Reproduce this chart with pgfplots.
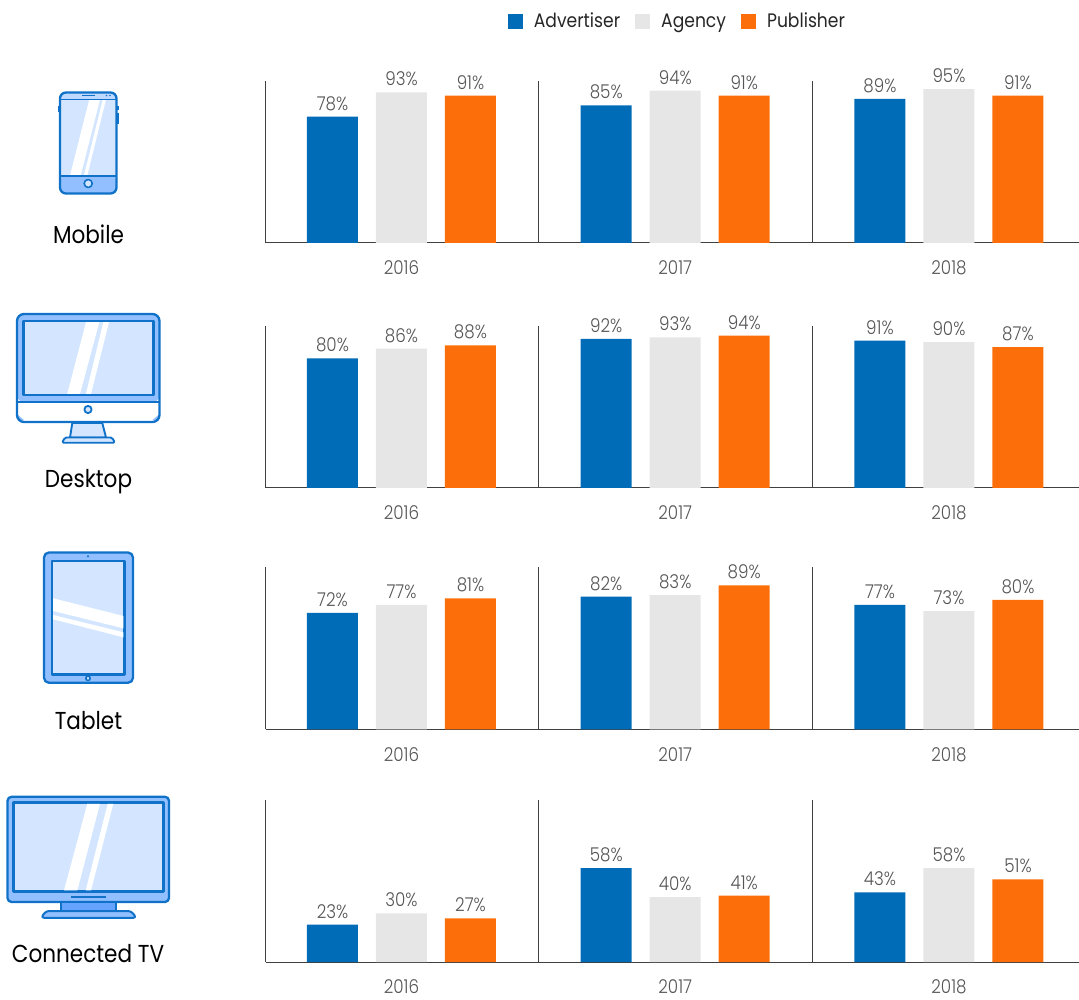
\documentclass[border=0pt]{standalone}
\usepackage{pgfplots}
\pgfplotsset{compat=1.18}
\usepackage{fontspec}
\setmainfont{Poppins}[FakeStretch=0.88]
\newfontfamily\lightfont{Poppins Light}[FakeStretch=0.88]

\definecolor{advblue}{HTML}{006BB7}
\definecolor{agcgray}{HTML}{E6E6E6}
\definecolor{puborange}{HTML}{FC6E09}
\definecolor{iconline}{HTML}{0F72C8}
\definecolor{iconmid}{HTML}{92BFFF}
\definecolor{iconscreen}{HTML}{D4E6FF}
\definecolor{iconstand}{HTML}{66A3FF}
\definecolor{valuegray}{HTML}{555555}

\pgfplotsset{
  panel/.style={
    scale only axis, width=813.5pt, height=162pt,
    anchor=south west, clip=false,
    xmin=-0.4968, xmax=2.475, ymin=0, ymax=100,
    ybar=18pt, bar width=51pt,
    axis x line=bottom, axis y line=left,
    axis line style={-, draw=black!75, line width=1pt},
    ytick=\empty,
    xtick={0,1,2}, xticklabels={2016,2017,2018},
    major tick length=0pt,
    xticklabel style={font=\lightfont\fontsize{19}{21}\selectfont, text=valuegray, yshift=-14.5pt},
    extra x ticks={0.5,1.5}, extra x tick labels={},
    extra x tick style={grid=major, major grid style={draw=black!75, line width=1pt}},
    /pgf/number format/assume math mode=true,
    nodes near coords={\pgfmathprintnumber{\pgfplotspointmeta}\%},
    every node near coord/.append style={font=\lightfont\fontsize{19}{21}\selectfont, text=valuegray, inner sep=0pt, yshift=6pt},
    point meta=explicit,
    legend image code/.code={\fill[##1] (0pt,-7.5pt) rectangle (15pt,7.5pt);},
  },
  adv/.style={fill=advblue, draw=none},
  agc/.style={fill=agcgray, draw=none},
  pub/.style={fill=puborange, draw=none},
}

% One row of grouped bars: baseline height, extra options, three value triples
\newcommand\panel[5]{%
  \begin{axis}[panel, at={(265.5pt,#1pt)}, #2]
    \addplot[adv] coordinates {#3};
    \addplot[agc] coordinates {#4};
    \addplot[pub] coordinates {#5};
    \ifx\legendrow\relax\else\legendrow\fi
  \end{axis}%
}

\begin{document}
\begin{tikzpicture}
\useasboundingbox (0,0) rectangle (1079pt,999pt);

\def\legendrow{\legend{Advertiser,Agency,Publisher}}
\panel{756}{
  legend style={at={(0.5064,1.37)}, anchor=center, draw=none, fill=none,
    legend columns=3,
    font=\fontsize{19.5}{22}\selectfont, text=black!85,
    /tikz/every odd column/.append style={column sep=9pt},
    /tikz/every even column/.append style={column sep=13pt}},
  legend cell align=left}
  {(0,78)[78] (1,85)[85] (2,89)[89]}
  {(0,93)[93] (1,94)[94] (2,95)[95]}
  {(0,91)[91] (1,91)[91] (2,91)[91]}
\let\legendrow\relax
\panel{511}{}
  {(0,80)[80] (1,92)[92] (2,91)[91]}
  {(0,86)[86] (1,93)[93] (2,90)[90]}
  {(0,88)[88] (1,94)[94] (2,87)[87]}
\panel{269.5}{}
  {(0,72)[72] (1,82)[82] (2,77)[77]}
  {(0,77)[77] (1,83)[83] (2,73)[73]}
  {(0,81)[81] (1,89)[89] (2,80)[80]}
\panel{37}{}
  {(0,23)[23] (1,58)[58] (2,43)[43]}
  {(0,30)[30] (1,40)[40] (2,58)[58]}
  {(0,27)[27] (1,41)[41] (2,51)[51]}

% Device icons and their captions, laid out from the top edge downwards
\begin{scope}[shift={(0,999pt)}, x=1pt, y=-1pt, line join=round]
  \tikzset{ic/.style={draw=iconline, line width=2.3pt}}
  \tikzset{inner/.style={draw=iconline, line width=2.4pt}}
  \tikzset{devlabel/.style={font=\fontsize{24.5}{26}\selectfont, text=black, anchor=base, inner sep=0pt}}

  % phone
  \fill[iconline] (57.5,106.5) rectangle (59.5,112.5);
  \fill[iconline] (116.5,106) rectangle (118.5,110);
  \fill[iconline] (116.5,113) rectangle (118.5,124);
  \fill[iconscreen, rounded corners=6pt] (60,92.5) rectangle (116.5,193.5);
  \fill[iconmid, rounded corners=5pt] (60,176) rectangle (116.5,193.5);
  \fill[iconscreen!70!iconmid] (62,93) -- (115,93) -- (116,99) -- (60,99) -- cycle;
  \fill[white] (89.3,99.5) -- (100,99.5) -- (80.7,175.5) -- (70,175.5) -- cycle;
  \fill[white] (102.7,99.5) -- (106,99.5) -- (87.3,175.5) -- (84,175.5) -- cycle;
  \draw[iconline, line width=1.3pt] (60,99.5) -- (116.5,99.5) (60,176) -- (116.5,176);
  \draw[ic, rounded corners=6pt] (60,92.5) rectangle (116.5,193.5);
  \draw[iconline, line width=1.4pt] (82,95.6) -- (95,95.6);
  \fill[iconline] (106.5,95.6) circle (0.9pt) (110,95.6) circle (0.9pt);
  \draw[iconline, line width=1.6pt, fill=iconscreen] (88.2,183.5) circle (4pt);
  \node[devlabel] at (88.5,243.5) {Mobile};

  % desktop
  \fill[iconmid, rounded corners=7pt] (17,314) -- (159.5,314) -- (159.5,402) -- (17,402) -- cycle;
  \fill[white, rounded corners=6pt] (17,402) rectangle (159.5,422);
  \fill[iconmid] (18,415) -- (24,420) -- (18,421) -- cycle;
  \fill[iconmid] (158.5,415) -- (152.5,420) -- (158.5,421) -- cycle;
  \draw[inner, fill=iconscreen] (23.5,321) rectangle (153.5,395);
  \fill[white] (86,322.2) -- (99.3,322.2) -- (80,393.8) -- (67.3,393.8) -- cycle;
  \fill[white] (103.3,322.2) -- (109,322.2) -- (91,393.8) -- (86,393.8) -- cycle;
  \draw[iconline, line width=1.9pt] (17,402) -- (159.5,402);
  \draw[ic, rounded corners=7pt] (17,314) rectangle (159.5,422);
  \draw[iconline, line width=1.8pt, fill=iconscreen] (88,409.5) circle (3.6pt);
  \draw[iconline, line width=1.9pt, fill=iconscreen] (72.3,423) -- (102.3,423) -- (106,437.5) -- (70,437.5) -- cycle;
  \draw[iconline, line width=1.9pt, fill=iconscreen, rounded corners=1.5pt] (65,437.5) -- (112,437.5) -- (115,442.8) -- (62,442.8) -- cycle;
  \node[devlabel] at (88.5,488) {Desktop};

  % tablet
  \draw[ic, fill=iconmid, rounded corners=5pt] (44,552.5) rectangle (133,682.8);
  \draw[inner, fill=iconscreen] (52,561) rectangle (124.6,674.5);
  \fill[white] (53.2,598.3) -- (123.4,616) -- (123.4,628.3) -- (53.2,611) -- cycle;
  \fill[white] (53.2,615) -- (123.4,632.3) -- (123.4,637.3) -- (53.2,619.3) -- cycle;
  \fill[iconline] (88,556.3) circle (1.1pt);
  \draw[iconline, line width=1.6pt, fill=iconscreen] (88,678.3) circle (2.2pt);
  \node[devlabel] at (88.5,730) {Tablet};

  % connected TV
  \draw[ic, fill=iconmid, rounded corners=4pt] (7.5,796.8) rectangle (169,902);
  \draw[inner, fill=iconscreen] (13.5,802.5) rectangle (163.3,891.7);
  \fill[white] (87.3,803.8) -- (100,803.8) -- (77.3,890.5) -- (64,890.5) -- cycle;
  \fill[white] (107.7,803.8) -- (113.3,803.8) -- (91,890.5) -- (85.7,890.5) -- cycle;
  \draw[iconline, line width=1.8pt] (71,896.8) -- (106,896.8);
  \draw[iconline, line width=2pt, fill=iconstand] (61,902) rectangle (116,911);
  \draw[iconline, line width=2pt, fill=iconmid, rounded corners=3pt] (46,911) -- (131,911) -- (136.5,917.8) -- (41,917.8) -- cycle;
  \node[devlabel] at (88,962) {Connected TV};
\end{scope}
\end{tikzpicture}
\end{document}
